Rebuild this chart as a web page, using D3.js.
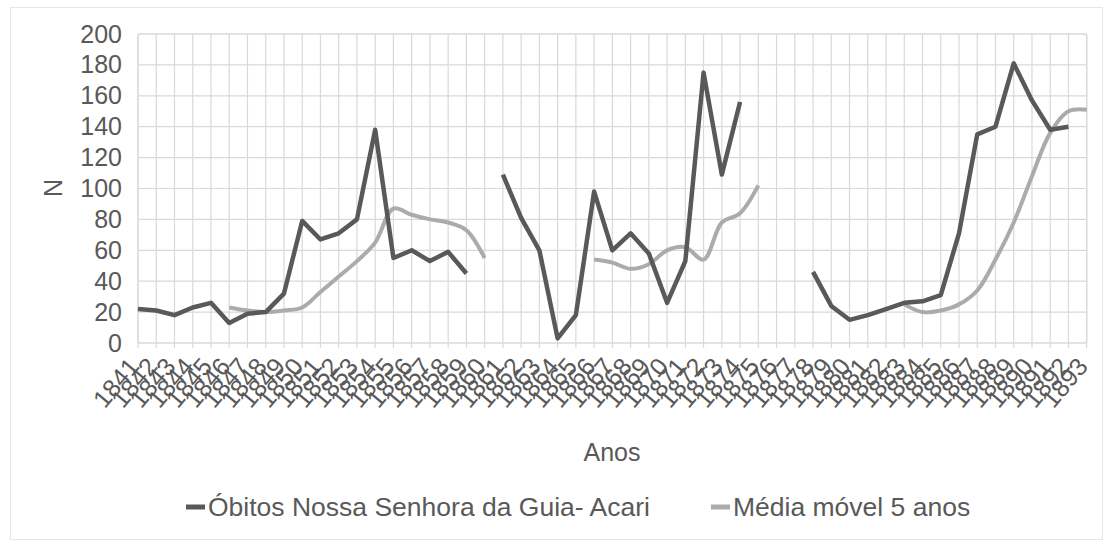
<!DOCTYPE html>
<html>
<head>
<meta charset="utf-8">
<script src="https://cdn.jsdelivr.net/npm/d3@7"></script>
<style>
  html, body { margin: 0; padding: 0; background: #ffffff; }
  svg { display: block; }
  text { font-family: "Liberation Sans", Arial, sans-serif; fill: #595959; }
</style>
</head>
<body>
<svg id="chart" width="1105" height="542"></svg>
<script>
// Years on the category axis
const years = d3.range(1841, 1894).map(String);

// Annual deaths (null where the register has no data)
const obitos = [22,21,18,23,26,13,19,20,32,79,
                67,71,80,138,55,60,53,59,45,null,
                109,81,60,3,18,98,60,71,58,26,
                53,175,109,156,null,null,null,46,24,15,
                18,22,26,27,31,71,135,140,181,157,
                138,140,null];

// Five-year moving average
const mediaMovel = [null,null,null,null,null,23,21,20,21,23,
                    33,43,53,65,87,83,80,78,73,55,
                    null,null,null,null,null,54,52,48,51,60,
                    62,54,78,84,102,null,null,null,null,null,
                    null,null,25,20,21,25,34,54,78,108,
                    136,150,151];

const yTicks = [0,20,40,60,80,100,120,140,160,180,200];

const seriesNames = ["Óbitos Nossa Senhora da Guia- Acari", "Média móvel 5 anos"];

const svg = d3.select("#chart");
const gridColor = "#d9d9d9";
const fontFamily = "'Liberation Sans', Arial, sans-serif";

// outer chart frame
svg.append("rect")
  .attr("x", 10.5).attr("y", 7.5)
  .attr("width", 1092).attr("height", 532)
  .attr("fill", "none").attr("stroke", "#e6e6e6");

const plot = { left: 138, right: 1086.7, top: 34, bottom: 343 };

const x = d3.scalePoint().domain(years).range([plot.left, plot.right]);
const y = d3.scaleLinear().domain([0, 200]).range([plot.bottom, plot.top]);

// vertical gridlines, one per year
svg.append("g").selectAll("line").data(years).join("line")
  .attr("x1", d => x(d)).attr("x2", d => x(d))
  .attr("y1", plot.top).attr("y2", plot.bottom + 5)
  .attr("stroke", gridColor).attr("stroke-width", 1.2);

// horizontal gridlines
svg.append("g").selectAll("line").data(yTicks).join("line")
  .attr("x1", plot.left).attr("x2", plot.right)
  .attr("y1", d => y(d)).attr("y2", d => y(d))
  .attr("stroke", gridColor).attr("stroke-width", 1.2);

// plot area border
svg.append("rect")
  .attr("x", plot.left).attr("y", plot.top)
  .attr("width", plot.right - plot.left).attr("height", plot.bottom - plot.top)
  .attr("rx", 3)
  .attr("fill", "none").attr("stroke", gridColor).attr("stroke-width", 1.2);

// y axis labels
const yAxis = d3.axisLeft(y).tickValues(yTicks).tickSize(0).tickPadding(0);
const gy = svg.append("g").attr("transform", `translate(${plot.left - 16},0)`).call(yAxis);
gy.select(".domain").remove();
gy.selectAll("text").style("font-size", "25px").attr("fill", "#595959")
  .style("font-family", fontFamily);

// x axis labels, rotated
const xAxis = d3.axisBottom(x).tickSize(0).tickPadding(0);
const gx = svg.append("g").attr("transform", `translate(0,${plot.bottom})`).call(xAxis);
gx.select(".domain").remove();
gx.selectAll("text")
  .style("font-size", "25px")
  .style("font-family", fontFamily)
  .attr("fill", "#595959")
  .attr("text-anchor", "end")
  .attr("dy", null)
  .attr("y", 0)
  .attr("transform", "translate(2,24) rotate(-50)");

// axis titles
svg.append("text")
  .attr("transform", "translate(62,188) rotate(-90)")
  .attr("text-anchor", "middle")
  .style("font-size", "25px")
  .text("N");

svg.append("text")
  .attr("x", 612).attr("y", 461)
  .attr("text-anchor", "middle")
  .style("font-size", "25px")
  .text("Anos");

// series lines
const lineObitos = d3.line()
  .defined(d => d != null)
  .x((d, i) => x(years[i]))
  .y(d => y(d));

const lineMedia = d3.line()
  .defined(d => d != null)
  .x((d, i) => x(years[i]))
  .y(d => y(d))
  .curve(d3.curveCatmullRom.alpha(0.5));

svg.append("path")
  .datum(mediaMovel)
  .attr("d", lineMedia)
  .attr("fill", "none")
  .attr("stroke", "#ababab")
  .attr("stroke-width", 4)
  .attr("stroke-linejoin", "round");

svg.append("path")
  .datum(obitos)
  .attr("d", lineObitos)
  .attr("fill", "none")
  .attr("stroke", "#595959")
  .attr("stroke-width", 4.5)
  .attr("stroke-linejoin", "round");

// legend
const legendItems = [
  { name: seriesNames[0], color: "#595959", x: 186 },
  { name: seriesNames[1], color: "#ababab", x: 711 }
];
const lg = svg.append("g").selectAll("g").data(legendItems).join("g")
  .attr("transform", d => `translate(${d.x},507)`);
lg.append("line")
  .attr("x1", 0).attr("x2", 19).attr("y1", 0).attr("y2", 0)
  .attr("stroke", d => d.color).attr("stroke-width", 5);
lg.append("text")
  .attr("x", 22).attr("y", 0).attr("dy", "0.35em")
  .style("font-size", "26.5px")
  .text(d => d.name);
</script>
</body>
</html>
